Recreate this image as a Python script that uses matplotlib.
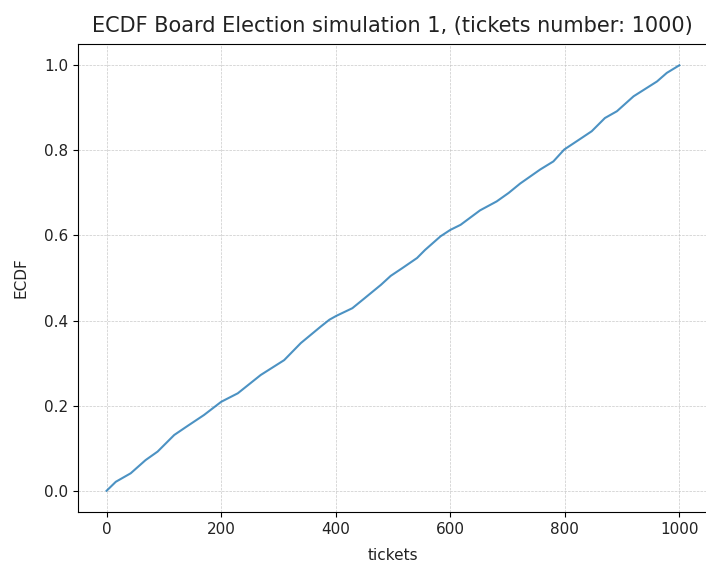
import numpy as np
import matplotlib
matplotlib.use("Agg")
import matplotlib.pyplot as plt

# ECDF of tickets
tickets = [0, 16, 42, 68, 89, 118, 141, 170, 200, 229, 269, 310, 339, 374,
           389, 401, 429, 450, 479, 496, 516, 542, 556, 583, 600, 618, 652,
           681, 702, 722, 757, 780, 799, 827, 847, 870, 891, 920, 961, 978, 1000]
ecdf = [0.0, 0.021, 0.041, 0.072, 0.092, 0.131, 0.152, 0.178, 0.209, 0.229,
        0.272, 0.307, 0.347, 0.386, 0.402, 0.411, 0.429, 0.452, 0.484, 0.505,
        0.523, 0.547, 0.566, 0.598, 0.613, 0.625, 0.659, 0.680, 0.700, 0.722,
        0.755, 0.774, 0.802, 0.827, 0.845, 0.876, 0.892, 0.927, 0.962, 0.982, 1.0]

fig = plt.figure(figsize=(7.06, 5.63), dpi=100)
ax = fig.add_axes([78 / 706, 1 - 512 / 563, 630 / 706, 468 / 563])

ax.plot(tickets, ecdf, color="#1f77b4", alpha=0.8, linewidth=1.5)
ax.set_xlim(-50, 1050)
ax.set_ylim(-0.05, 1.05)
ax.set_xticks([0, 200, 400, 600, 800, 1000])
ax.set_yticks([0.0, 0.2, 0.4, 0.6, 0.8, 1.0])
ax.tick_params(labelsize=11, labelcolor="#222222")
ax.grid(True, linestyle="--", linewidth=0.5, color="#bbbbbb", alpha=0.8)

ax.set_xlabel("tickets", fontsize=11, labelpad=8, color="#222222")
ax.set_ylabel("ECDF", fontsize=11, labelpad=11, color="#222222")
fig.text(392 / 706, 1 - 26 / 563, "ECDF Board Election simulation 1, (tickets number: 1000)",
         ha="center", va="center", fontsize=15, color="#222222")

fig.savefig("out.png", dpi=100)
